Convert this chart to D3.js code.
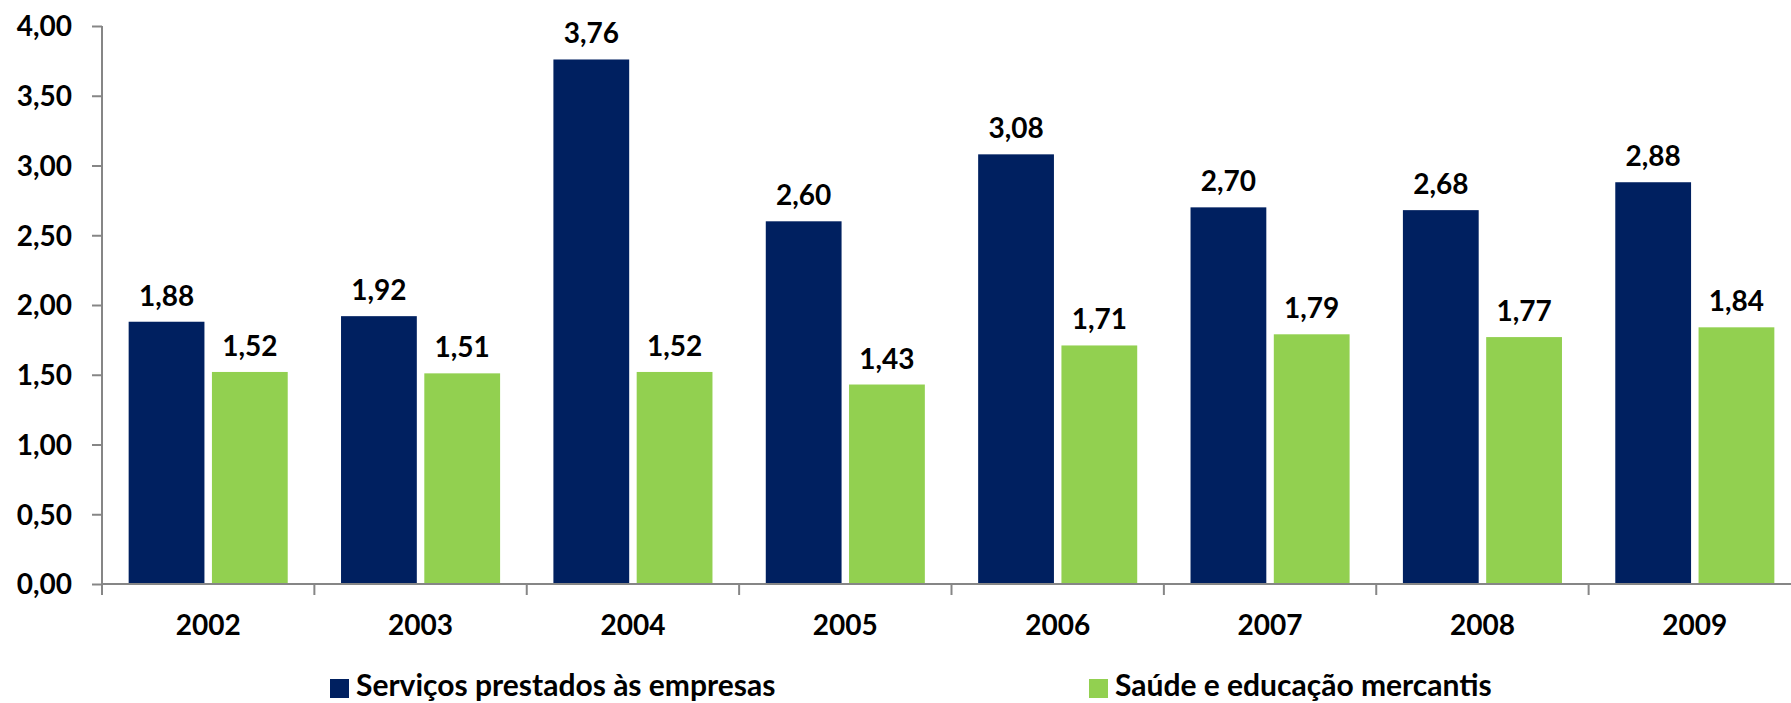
<!DOCTYPE html>
<html><head><meta charset="utf-8">
<script src="https://cdn.jsdelivr.net/npm/d3@7"></script>
<style>
html,body{margin:0;padding:0;background:#fff;overflow:hidden}
text{font-family:Lato,"Open Sans",sans-serif;font-weight:700;fill:#000}
</style></head>
<body>
<svg id="chart" width="1791" height="703"></svg>
<script>
const years = ["2002","2003","2004","2005","2006","2007","2008","2009"];
const seriesNames = ["Serviços prestados às empresas","Saúde e educação mercantis"];
const servicos = [1.88,1.92,3.76,2.60,3.08,2.70,2.68,2.88];
const saude = [1.52,1.51,1.52,1.43,1.71,1.79,1.77,1.84];
const yTicks = [0,0.5,1,1.5,2,2.5,3,3.5,4];
const colors = ["#002060","#92D050"];

const fmt = v => d3.format(".2f")(v).replace(".", ",");
const svg = d3.select("#chart");
const pLeft = 102, pRight = 1801, pTop = 26, pBottom = 584;

const x = d3.scaleBand().domain(years).range([pLeft, pRight]).padding(0);
const xs = d3.scaleBand().domain(seriesNames).range([0, x.bandwidth()]).paddingInner(0.09).paddingOuter(0.32);
const y = d3.scaleLinear().domain([0,4]).range([pBottom, pTop]);

const data = years.map((yr,i)=>({year:yr, vals:[{s:seriesNames[0],v:servicos[i],c:colors[0]},{s:seriesNames[1],v:saude[i],c:colors[1]}]}));

const g = svg.append("g").selectAll("g").data(data).join("g")
  .attr("transform", d=>`translate(${x(d.year)},0)`);
g.selectAll("rect").data(d=>d.vals).join("rect")
  .attr("x", d=>xs(d.s)).attr("width", xs.bandwidth())
  .attr("y", d=>y(d.v)).attr("height", d=>y(0)-y(d.v))
  .attr("fill", d=>d.c);
g.selectAll("text.val").data(d=>d.vals).join("text").attr("class","val")
  .attr("x", d=>xs(d.s)+xs.bandwidth()/2).attr("y", d=>y(d.v)-16)
  .attr("text-anchor","middle").attr("font-size",28).text(d=>fmt(d.v));

// Y axis
const yAxis = svg.append("g").attr("transform",`translate(${pLeft},0)`)
  .call(d3.axisLeft(y).tickValues(yTicks).tickSize(10).tickPadding(20).tickFormat(fmt));
yAxis.select(".domain").attr("stroke","#868686").attr("stroke-width",2).attr("d",`M0,${pTop}V${pBottom+11}`);
yAxis.selectAll(".tick line").attr("stroke","#868686").attr("stroke-width",2);
yAxis.selectAll(".tick text").attr("font-size",28).attr("font-family","Lato").attr("font-weight",700).attr("fill","#000").attr("dy","0.35em");

// X axis
const xAxis = svg.append("g").attr("transform",`translate(0,${pBottom})`);
xAxis.append("line").attr("x1",pLeft).attr("x2",pRight).attr("stroke","#868686").attr("stroke-width",2);
xAxis.selectAll("line.tk").data(years.concat(["end"])).join("line").attr("class","tk")
  .attr("x1",(d,i)=>i<years.length?x(d):pRight).attr("x2",(d,i)=>i<years.length?x(d):pRight)
  .attr("y1",0).attr("y2",11).attr("stroke","#868686").attr("stroke-width",2);
xAxis.selectAll("text").data(years).join("text")
  .attr("x",d=>x(d)+x.bandwidth()/2).attr("y",51).attr("text-anchor","middle")
  .attr("font-size",28).text(d=>d);

// Legend
const legX = [330, 1089];
const leg = svg.append("g").selectAll("g").data(seriesNames).join("g")
  .attr("transform",(d,i)=>`translate(${legX[i]},679)`);
leg.append("rect").attr("width",19).attr("height",19).attr("fill",(d,i)=>colors[i]);
leg.append("text").attr("x",26).attr("y",17).attr("font-size",30).text(d=>d);
</script>
</body></html>
